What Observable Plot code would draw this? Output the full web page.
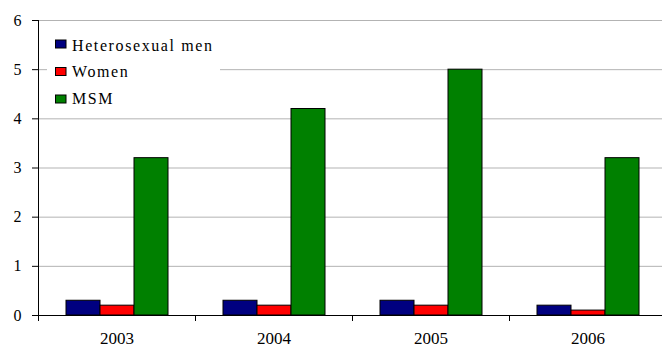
<!DOCTYPE html>
<html><head><meta charset="utf-8">
<script src="https://cdn.jsdelivr.net/npm/d3@7"></script>
<script src="https://cdn.jsdelivr.net/npm/@observablehq/plot@0.6"></script>
<style>body{margin:0;background:#fff}#wrap{width:662px;height:348px}
#wrap svg text{font-family:"Liberation Serif","Times New Roman",Times,serif !important}</style>
</head><body><div id="wrap"></div>
<script>
const years = ["2003", "2004", "2005", "2006"];
const series = ["Heterosexual men", "Women", "MSM"];
const colors = ["#000080", "#ff0000", "#008000"];
const heteroMen = [0.3, 0.3, 0.3, 0.2];
const women = [0.2, 0.2, 0.2, 0.1];
const msm = [3.2, 4.2, 5.0, 3.2];
const yTicks = [0, 1, 2, 3, 4, 5, 6];

const values = [heteroMen, women, msm];
const data = years.flatMap((yr, i) => series.map((s, j) => ({year: yr, series: s, value: values[j][i]})));

const font = "Liberation Serif, Times New Roman, serif";

const chart = Plot.plot({
  width: 662, height: 348,
  marginLeft: 37, marginRight: 0, marginTop: 20, marginBottom: 33,
  style: {fontFamily: font, fontSize: "16px", color: "#000", background: "#fff", overflow: "hidden"},
  fx: {domain: years, range: [37, 667.5], padding: 0, label: null},
  x: {domain: series, paddingInner: 0, paddingOuter: 0.75, axis: null},
  y: {domain: [0, 6], range: [315, 20], axis: null},
  color: {domain: series, range: colors},
  marks: [
    Plot.ruleY(yTicks.filter(d => d > 0), {stroke: "#b3b3b3", strokeWidth: 1}),
    Plot.barY(data, {fx: "year", x: "series", y: "value", fill: "series", stroke: "#000", strokeWidth: 1}),
    Plot.ruleY([0], {stroke: "#000", strokeWidth: 1}),
    Plot.frame({anchor: "left", facet: "super", stroke: "#000"}),
    Plot.frame({anchor: "left", stroke: "#000", insetTop: 295, insetBottom: -5}),
    Plot.axisY({ticks: yTicks, tickFormat: d => String(d), tickSize: 6, tickPadding: 11, fontSize: 16, fontFamily: font, label: null, stroke: "#000"}),
    Plot.axisFx({anchor: "bottom", tickSize: 0, tickPadding: 16, fontSize: 17, fontFamily: font, label: null, style: "letter-spacing:2.5px"})
  ]
});

const svg = d3.select(chart);
const lg = svg.append("g");
lg.append("rect").attr("x", 47).attr("y", 33).attr("width", 173).attr("height", 78).attr("fill", "#fff");
series.forEach((s, i) => {
  lg.append("rect").attr("x", 55.5).attr("y", 40 + i * 27.5).attr("width", 10.5).attr("height", 8)
    .attr("fill", colors[i]).attr("stroke", "#000").attr("stroke-width", 1);
  lg.append("text").attr("x", 72).attr("y", 50.7 + i * 26.7)
    .attr("text-anchor", "start")
    .style("font-family", font).style("font-size", "16px").style("letter-spacing", "1.6px")
    .attr("fill", "#000").text(s);
});

document.getElementById("wrap").appendChild(chart);
</script>
</body></html>
